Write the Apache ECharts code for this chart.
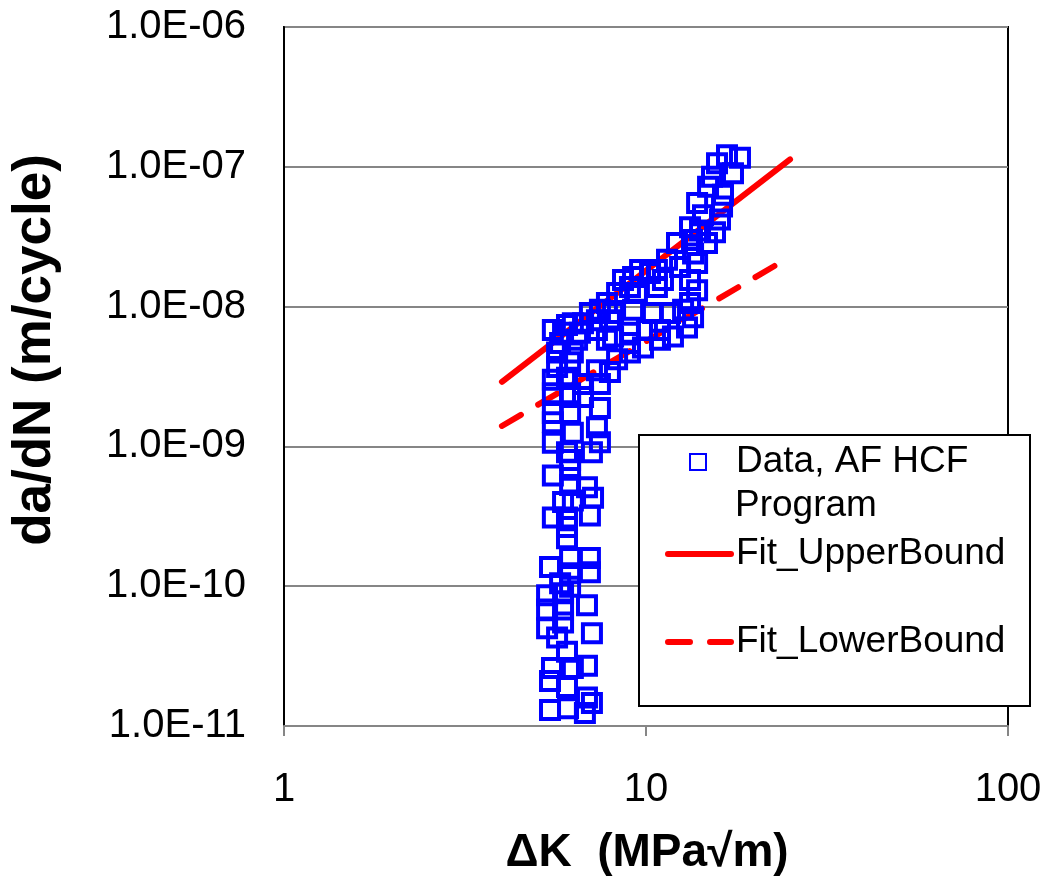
<!DOCTYPE html>
<html>
<head>
<meta charset="utf-8">
<script src="https://cdn.jsdelivr.net/npm/echarts@6.0.0/dist/echarts.min.js"></script>
<style>html,body{margin:0;padding:0;background:#fff}#c{width:1050px;height:887px}</style>
</head>
<body>
<div id="c"></div>
<script>
// Data, AF HCF Program: [deltaK (MPa√m), da/dN (m/cycle)]
const dataPoints = [
[16.74,1.21e-7],[18.18,1.16e-7],[15.71,1.06e-7],[17.39,9.0e-8],[15.22,8.5e-8],[14.84,7.2e-8],[16.32,6.3e-8],[13.84,5.5e-8],[16.22,5.2e-8],[14.37,4.5e-8],
[16.01,4.2e-8],[13.23,3.7e-8],[14.10,3.5e-8],[15.51,3.4e-8],[12.18,2.85e-8],[13.40,3.0e-8],[14.74,2.85e-8],[13.49,2.4e-8],[13.84,2.05e-8],[11.43,2.16e-8],
[10.72,1.83e-8],[12.42,1.92e-8],[9.63,1.83e-8],[9.21,1.63e-8],[10.26,1.74e-8],[11.14,1.55e-8],[8.64,1.55e-8],[9.03,1.38e-8],[10.72,1.38e-8],[13.23,1.55e-8],
[13.84,1.31e-8],[8.32,1.25e-8],[9.44,1.25e-8],[13.23,1.06e-8],[12.66,9.5e-9],[13.49,8.4e-9],[12.98,7.1e-9],[7.80,1.06e-8],[7.00,9.0e-9],[7.46,9.5e-9],
[8.11,9.0e-9],[9.21,9.5e-9],[10.45,9.0e-9],[11.65,9.0e-9],[6.28,7.6e-9],[6.70,7.6e-9],[7.32,8.0e-9],[7.95,8.0e-9],[5.90,6.5e-9],[6.57,6.5e-9],
[7.32,6.8e-9],[8.11,6.1e-9],[9.03,6.5e-9],[10.06,6.8e-9],[10.93,6.8e-9],[11.87,6.1e-9],[5.79,5.5e-9],[6.45,5.8e-9],[7.80,5.8e-9],[9.03,5.5e-9],
[9.81,5.1e-9],[10.93,5.8e-9],[5.68,4.7e-9],[6.28,4.7e-9],[8.32,4.2e-9],[9.03,4.7e-9],[5.68,3.7e-9],[6.17,4.0e-9],[7.32,3.5e-9],[7.95,3.4e-9],
[5.53,3.0e-9],[6.05,3.1e-9],[7.46,2.8e-9],[5.53,2.4e-9],[6.17,2.4e-9],[6.70,2.8e-9],[6.17,2.26e-9],[6.70,2.26e-9],[7.46,1.88e-9],[5.53,1.73e-9],
[6.17,1.73e-9],[7.32,1.37e-9],[6.28,1.25e-9],[5.53,1.06e-9],[6.05,9.1e-10],[7.09,9.1e-10],[7.46,1.07e-9],[6.17,8.0e-10],[5.53,6.2e-10],[6.17,6.8e-10],
[6.17,5.3e-10],[6.87,5.1e-10],[7.14,4.3e-10],[5.90,4.0e-10],[6.28,4.1e-10],[5.53,3.1e-10],[6.05,3.1e-10],[7.00,3.2e-10],[6.05,2.65e-10],[6.05,2.2e-10],
[6.17,1.59e-10],[7.00,1.59e-10],[5.43,1.37e-10],[6.17,1.24e-10],[7.00,1.26e-10],[5.79,1.05e-10],[6.17,9.9e-11],[5.33,8.6e-11],[5.90,8.9e-11],[6.87,7.3e-11],
[5.33,6.8e-11],[5.90,6.8e-11],[5.90,5.5e-11],[5.33,5.0e-11],[7.09,4.6e-11],[5.68,4.3e-11],[6.05,3.4e-11],[5.50,2.6e-11],[6.28,2.6e-11],[6.87,2.7e-11],
[5.43,2.1e-11],[6.05,1.9e-11],[6.87,1.6e-11],[7.09,1.46e-11],[5.43,1.3e-11],[6.09,1.34e-11],[6.78,1.24e-11],[5.53,6.8e-9],[6.05,7.4e-9],[5.53,1.49e-9]
];
const fitUpper = [[4, 2.9e-9], [25, 1.13e-7]];
const fitLower = [[4, 1.4e-9], [23, 2.0e-8]];
const xTicks = [1, 10, 100];
const yTicks = [1e-11, 1e-10, 1e-9, 1e-8, 1e-7, 1e-6];
const seriesNames = ['Data, AF HCF Program', 'Fit_UpperBound', 'Fit_LowerBound'];
const legendLines = ['Data, AF HCF', 'Program'];
const xTitle = 'ΔK  (MPa√m)';
const yTitle = 'da/dN (m/cycle)';

const FONT = '"Liberation Sans", Arial, sans-serif';
function fmtY(v) {
  const e = Math.round(Math.log10(v));
  return '1.0E' + (e < 0 ? '-' : '+') + String(Math.abs(e)).padStart(2, '0');
}
const chart = echarts.init(document.getElementById('c'));
const legendText = { fontFamily: FONT, fontSize: 37, color: '#000', lineHeight: 44 };
const lineLegendCommon = {
  orient: 'vertical', left: 665, padding: 0, itemWidth: 63, itemHeight: 14, z: 20, textStyle: legendText,
  itemStyle: { color: 'rgba(0,0,0,0)', borderWidth: 0, opacity: 0 }
};
chart.setOption({
  animation: false,
  backgroundColor: '#fff',
  grid: { left: 284, top: 27, right: 42, bottom: 161, show: true, borderColor: '#000', borderWidth: 2, backgroundColor: 'transparent' },
  xAxis: {
    type: 'log', logBase: 10, min: xTicks[0], max: xTicks[xTicks.length - 1],
    axisLine: { show: true, onZero: false, lineStyle: { color: '#868686', width: 2 } },
    axisTick: { show: true, length: 10, lineStyle: { color: '#868686', width: 2 } },
    axisLabel: { fontFamily: FONT, fontSize: 40, color: '#000', margin: 44, formatter: v => String(v) },
    splitLine: { show: false }, minorTick: { show: false }
  },
  yAxis: {
    type: 'log', logBase: 10, min: yTicks[0], max: yTicks[yTicks.length - 1],
    axisLine: { show: true, onZero: false, lineStyle: { color: '#000', width: 2 } },
    axisTick: { show: false },
    axisLabel: { fontFamily: FONT, fontSize: 40, color: '#000', margin: 38, formatter: fmtY },
    splitLine: { show: true, showMaxLine: false, showMinLine: false, lineStyle: { color: '#868686', width: 2 } }
  },
  legend: [
    { data: [seriesNames[0]], orient: 'vertical', left: 689, top: 440, padding: 0, itemWidth: 16, itemHeight: 16,
      formatter: () => legendLines[0], z: 20,
      textStyle: Object.assign({}, legendText, { padding: [0, 0, 0, 25] }) },
    Object.assign({ data: [seriesNames[1]], top: 532,
      lineStyle: { color: '#FF0000', width: 6, cap: 'round' } }, lineLegendCommon),
    Object.assign({ data: [seriesNames[2]], top: 620,
      lineStyle: { color: '#FF0000', width: 6, type: [22, 20], cap: 'round' } }, lineLegendCommon)
  ],
  graphic: [
    { type: 'rect', z: 10, shape: { x: 639, y: 435, width: 391, height: 271 }, style: { fill: '#fff', stroke: '#000', lineWidth: 2 } },
    { type: 'text', z: 30, x: 735, y: 506,
      style: { text: legendLines[1], font: '37px ' + FONT, fill: '#000', align: 'left', verticalAlign: 'middle' } },
    { type: 'text', z: 10, x: 35, y: 350, rotation: Math.PI / 2,
      style: { text: yTitle, font: 'bold 53px ' + FONT, fill: '#000', align: 'center', verticalAlign: 'middle' } },
    { type: 'text', z: 10, x: 647, y: 853,
      style: { text: xTitle, font: 'bold 46px ' + FONT, fill: '#000', align: 'center', verticalAlign: 'middle' } }
  ],
  series: [
    { name: seriesNames[0], type: 'scatter', data: dataPoints, symbol: 'rect', symbolSize: 18, z: 3,
      itemStyle: { color: 'rgba(255,255,255,0)', borderColor: '#0000FF', borderWidth: 4, opacity: 1 } },
    { name: seriesNames[1], type: 'line', data: fitUpper, showSymbol: false, symbol: 'none', z: 2,
      lineStyle: { color: '#FF0000', width: 6, cap: 'round' }, itemStyle: { color: '#FF0000' } },
    { name: seriesNames[2], type: 'line', data: fitLower, showSymbol: false, symbol: 'none', z: 2,
      lineStyle: { color: '#FF0000', width: 6, type: [22, 20], cap: 'round' }, itemStyle: { color: '#FF0000' } }
  ]
});
</script>
</body>
</html>
